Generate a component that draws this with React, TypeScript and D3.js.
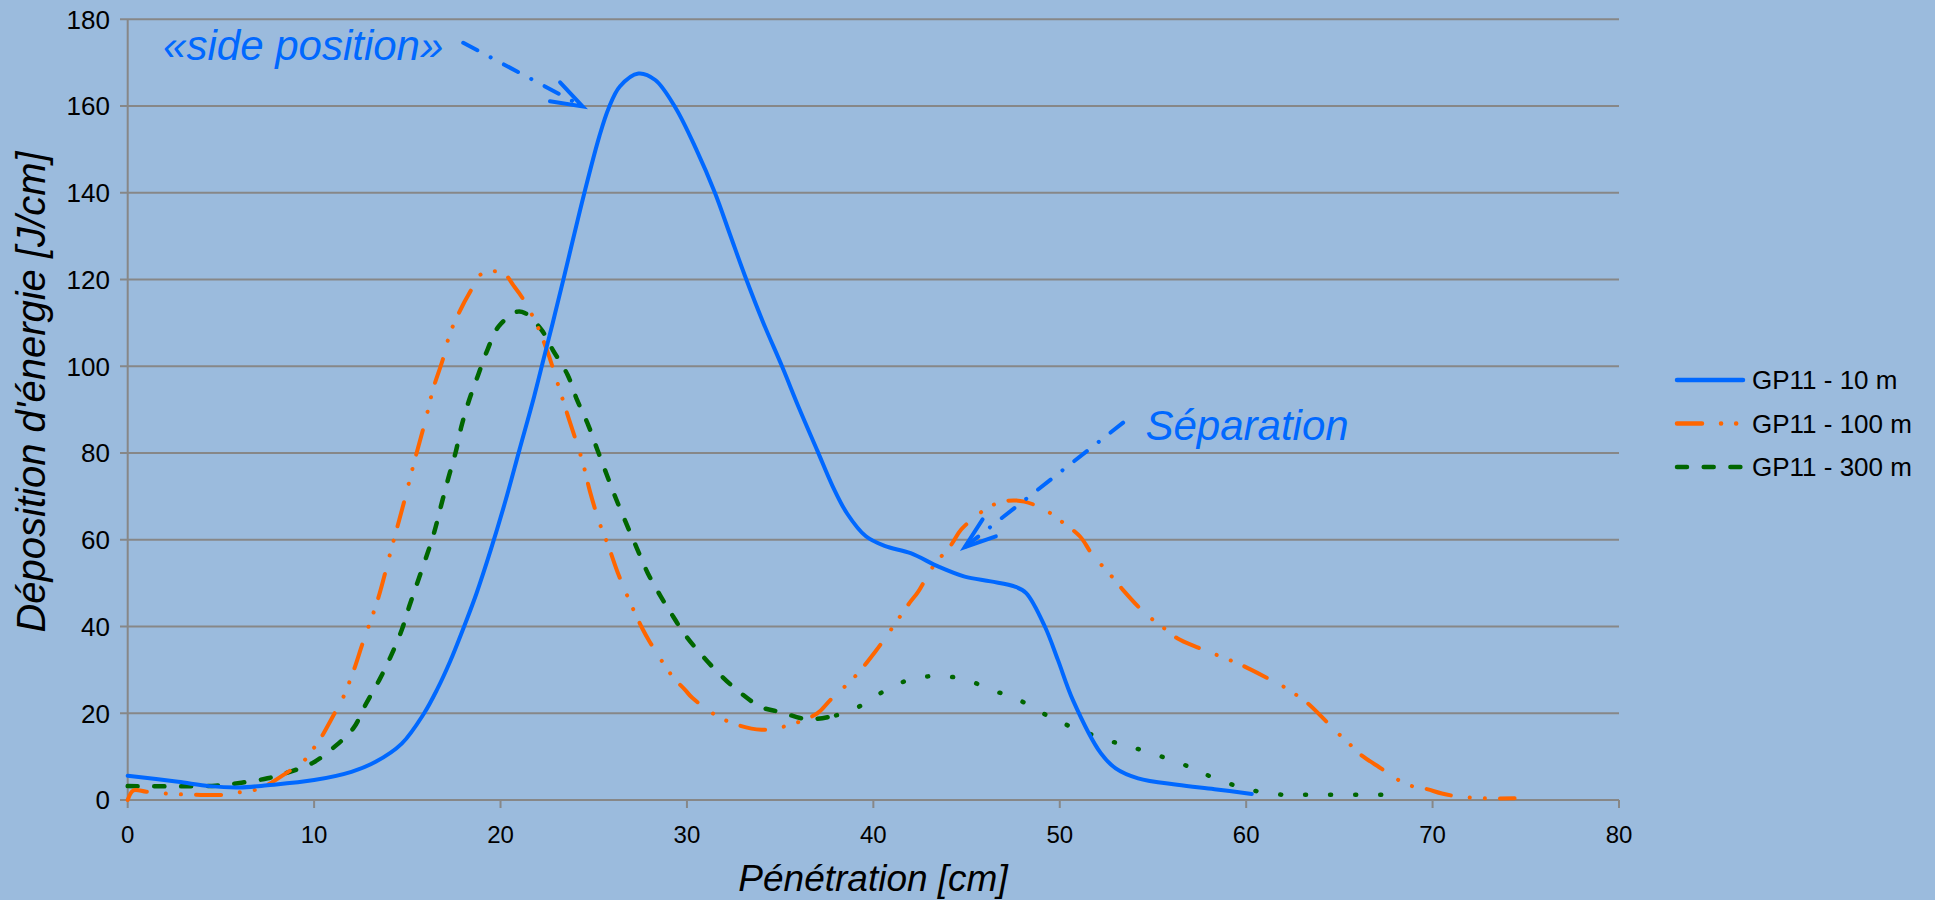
import React from 'react'
import * as d3 from 'd3'

// Pénétration [cm] vs Déposition d'énergie [J/cm]
const xTicks = [0, 10, 20, 30, 40, 50, 60, 70, 80]
const yTicks = [0, 20, 40, 60, 80, 100, 120, 140, 160, 180]
const seriesNames = ['GP11 - 10 m', 'GP11 - 100 m', 'GP11 - 300 m']

const gp10: [number, number][] = [
  [0, 5.6], [2.7, 4.2], [4.4, 3.2], [6, 2.9], [7.5, 3.4], [10, 4.6], [12, 6.5], [13.3, 8.8],
  [14.7, 13], [15.9, 20], [16.6, 25.5], [17.3, 32], [18, 39.5], [18.7, 47.5], [19.5, 58],
  [20.3, 69.5], [21, 80.5], [21.8, 93], [22.3, 101.5], [22.8, 110], [23.4, 120.5], [24.5, 140],
  [25.3, 153], [25.8, 159.5], [26.4, 164.5], [27.4, 167.5], [28.3, 166], [29.4, 159.5],
  [30.5, 150], [31.5, 140], [32.3, 130.5], [33.1, 121], [34.1, 110], [35.1, 100], [36, 90.5],
  [37, 80.5], [37.8, 72.5], [38.6, 66], [39.6, 60.8], [40.6, 58.6], [42, 56.9], [43.5, 53.8],
  [44.9, 51.5], [46.3, 50.4], [47.6, 49.2], [48.2, 47.7], [49.2, 40], [49.9, 32.3], [50.7, 23.1],
  [52.2, 10.8], [53, 7.3], [54.2, 5], [56.3, 3.5], [58.3, 2.5], [60.3, 1.4],
]

const gp100: [number, number][] = [
  [0, 0], [0.3, 2.2], [1, 1.9], [2, 1.5], [3.7, 1.2], [5.1, 1.2], [5.9, 1.7], [6.8, 2.3],
  [7.5, 3.5], [8.5, 6.2], [9.4, 8.8], [9.9, 11.5], [10.4, 14.6], [11.1, 20], [11.5, 23.1],
  [12.1, 29.6], [12.6, 36.1], [13.4, 46], [14.2, 58.8], [14.8, 68.3], [15.4, 78.4], [16, 88],
  [16.4, 95], [16.9, 101.5], [17.3, 107.7], [18, 114.3], [18.4, 117.4], [18.8, 120.7],
  [19.4, 121.9], [20.2, 121.3], [20.7, 118.6], [21.2, 115.6], [21.9, 110], [22.5, 103.6],
  [23.2, 94.2], [23.7, 87.4], [24.4, 78], [24.8, 71.1], [25.3, 64], [25.8, 58.4], [26.3, 52.3],
  [26.9, 46.1], [27.6, 39.6], [28, 36.5], [28.8, 31.1], [29.3, 28.1], [29.9, 25.4], [30.3, 23.5],
  [32, 18.5], [34, 16.2], [35.5, 17.3], [37, 20], [37.7, 23.1], [39, 28.4], [40.1, 34.2],
  [41, 39.6], [41.9, 45.2], [42.4, 48], [43.2, 53.8], [44.2, 59], [44.7, 62.3], [45.7, 66.1],
  [46.4, 68], [47.2, 69], [48.1, 68.8], [49.2, 66.9], [50.1, 64.2], [51.1, 60.7], [51.7, 56.9],
  [52.8, 51.5], [53.4, 48.4], [54.3, 44.2], [54.9, 41.9], [55.6, 39.6], [56.3, 37.3],
  [57.5, 35], [59.1, 32.3], [59.8, 31], [61.1, 28.2], [61.9, 26.4], [62.6, 24.5], [63.3, 22.3],
  [64.3, 18.1], [64.9, 15.5], [65.5, 13.1], [66.1, 10.6], [67.3, 7.1], [68, 5], [68.9, 3.2],
  [69.7, 2.5], [70.5, 1.5], [71.4, 0.8], [72.8, 0.4], [74.4, 0.4],
]

const gp300: [number, number][] = [
  [0, 3.2], [4.7, 3.3], [6.1, 4], [7.5, 5], [8.7, 6.5], [9.9, 8.5], [11.1, 12.3], [12.1, 16.5],
  [12.8, 22.3], [13.5, 27.7], [14.1, 33], [14.7, 39.2], [15.1, 44.6], [16.4, 61.1],
  [16.8, 67.7], [17.2, 74.2], [17.6, 80.3], [17.9, 86.1], [18.3, 92], [18.8, 98],
  [19.3, 103.8], [19.9, 109.2], [20.9, 112.6], [21.3, 112.3], [22.2, 108.4], [22.8, 103.8],
  [23.6, 98], [24.1, 92.3], [24.7, 86.5], [25.2, 80.7], [25.7, 75], [26.2, 69.4], [26.8, 63.2],
  [27.3, 58.2], [27.9, 52.3], [28.6, 46.9], [29.1, 43.4], [29.9, 38.1], [30.8, 33.4],
  [31.8, 28.8], [32.9, 24.6], [34, 21.4], [35, 20.3], [36.5, 18.6], [38, 19.5], [39, 21],
  [40.7, 25.4], [42, 27.8], [43.5, 28.6], [45, 27.7], [46.3, 25.4], [47.6, 23.5], [50, 18],
  [53, 13.2], [54.4, 11.5], [55.8, 9.5], [57.2, 7.2], [58.1, 5.4], [59.9, 2.7], [61.7, 1.3],
  [63.6, 1.2], [67.3, 1.2],
]

// annotations, in data units: [x1, y1, x2, y2]
const sideArrow = [18.0, 174.6, 24.4, 159.9]
const sepArrow = [53.4, 87, 44.9, 58.3]

const BG = '#9bbbdd'
const GRID = '#878787'
const BLUE = '#0068ff'
const ORANGE = '#ff6600'
const GREEN = '#006600'
const FONT = '"Liberation Sans", Arial, sans-serif'

const arrowHead = (x1: number, y1: number, x2: number, y2: number) => {
  const a = Math.atan2(y1 - y2, x1 - x2)
  const len = 33
  const h = (19 * Math.PI) / 180
  const p1 = [x2 + len * Math.cos(a + h), y2 + len * Math.sin(a + h)]
  const p2 = [x2 + len * Math.cos(a - h), y2 + len * Math.sin(a - h)]
  return `M${p1[0]},${p1[1]}L${x2},${y2}L${p2[0]},${p2[1]}`
}

export default function App() {
  const width = 1935
  const height = 900
  const x = d3.scaleLinear().domain([0, 80]).range([127.7, 1619])
  const y = d3.scaleLinear().domain([0, 180]).range([800, 19.3])

  const line = d3.line<[number, number]>()
    .x(d => x(d[0]))
    .y(d => y(d[1]))
    .curve(d3.curveCatmullRom.alpha(0.5))

  const arrows = [sideArrow, sepArrow].map(a => [x(a[0]), y(a[1]), x(a[2]), y(a[3])])

  const legendY = [380, 423.5, 467]
  const legendStyles = [
    { stroke: BLUE, dash: undefined },
    { stroke: ORANGE, dash: '25,19,0.1,15,0.1,15' },
    { stroke: GREEN, dash: '10,16.7' },
  ]

  return (
    <svg width={width} height={height} style={{ position: 'fixed', left: 0, top: 0, display: 'block' }}
      fontFamily={FONT}>
      <rect x={0} y={0} width={width} height={height} fill={BG} />

      {/* gridlines */}
      {yTicks.map(t => (
        <line key={'g' + t} x1={120} x2={1619} y1={y(t)} y2={y(t)} stroke={GRID} strokeWidth={2} />
      ))}
      <line x1={x(0)} x2={x(0)} y1={y(180)} y2={y(0)} stroke={GRID} strokeWidth={2} />
      {xTicks.map(t => (
        <line key={'xt' + t} x1={x(t)} x2={x(t)} y1={y(0)} y2={y(0) + 8} stroke={GRID} strokeWidth={2} />
      ))}

      {/* tick labels */}
      {yTicks.map(t => (
        <text key={'yl' + t} x={110} y={y(t)} dy="0.36em" textAnchor="end" fontSize={26} fill="#000">{t}</text>
      ))}
      {xTicks.map(t => (
        <text key={'xl' + t} x={x(t)} y={843} textAnchor="middle" fontSize={24} fill="#000">{t}</text>
      ))}

      {/* axis titles */}
      <text x={873} y={891} textAnchor="middle" fontSize={37} fontStyle="italic" fill="#000">Pénétration [cm]</text>
      <text transform="translate(45,392) rotate(-90)" textAnchor="middle" fontSize={40} fontStyle="italic" fill="#000">
        Déposition d'énergie [J/cm]
      </text>

      {/* series */}
      <path d={line(gp300.filter(d => d[0] <= 38)) || ''} fill="none" stroke={GREEN} strokeWidth={4.5}
        strokeDasharray="10,16.7" strokeLinecap="round" />
      <path d={line(gp300.filter(d => d[0] >= 38)) || ''} fill="none" stroke={GREEN} strokeWidth={4.5}
        strokeDasharray="1,24" strokeLinecap="round" />
      <path d={line(gp100) || ''} fill="none" stroke={ORANGE} strokeWidth={4}
        strokeDasharray="25,19,0.1,15,0.1,15" strokeLinecap="round" />
      <path d={line(gp10) || ''} fill="none" stroke={BLUE} strokeWidth={4} strokeLinecap="round" />

      {/* annotations */}
      {arrows.map((a, i) => (
        <g key={'a' + i} stroke={BLUE} strokeWidth={4} fill="none" strokeLinecap="round">
          <line x1={a[0]} y1={a[1]} x2={a[2]} y2={a[3]} strokeDasharray="16,15,0.1,15" />
          <path d={arrowHead(a[0], a[1], a[2], a[3])} strokeLinejoin="miter" />
        </g>
      ))}
      <text x={x(1.9)} y={y(170.7)} fontSize={42} fontStyle="italic" fill={BLUE}>«side position»</text>
      <text x={x(54.6)} y={y(83)} fontSize={42} fontStyle="italic" fill={BLUE}>Séparation</text>

      {/* legend */}
      {seriesNames.map((name, i) => (
        <g key={name}>
          <line x1={1677} x2={1743} y1={legendY[i]} y2={legendY[i]} stroke={legendStyles[i].stroke}
            strokeWidth={4.5} strokeDasharray={legendStyles[i].dash} strokeLinecap="round" />
          <text x={1752} y={legendY[i]} dy="0.35em" fontSize={26} fill="#000">{name}</text>
        </g>
      ))}
    </svg>
  )
}
